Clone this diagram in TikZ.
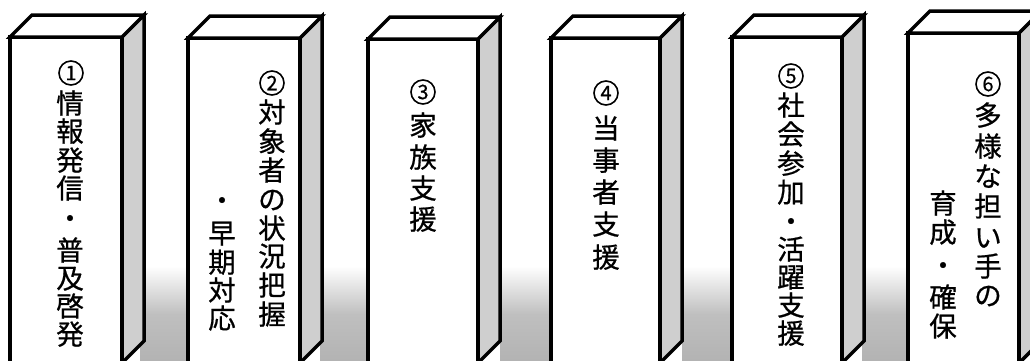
\documentclass[tikz,border=0pt]{standalone}
\usepackage{fontspec}
\newfontfamily\jp[FakeBold=0.7]{Noto Sans CJK JP}
\newfontfamily\jpdigit[FakeBold=0.6]{Noto Sans CJK JP}
\begin{document}
\begin{tikzpicture}[x=1pt,y=-1pt,
  edge/.style={line width=3.5pt, line join=miter, draw=black},
  front/.style={edge, fill=white, rectangle, inner sep=0pt, outer sep=0pt, anchor=north west},
  sideface/.style={edge, fill=gray!38},
  topface/.style={edge, fill=white},
  ch/.style={font=\jp\fontsize{27.5}{27.5}\selectfont, inner sep=0pt, anchor=center,
    text height=21pt, text depth=0pt},
  num/.style={circle, draw=black, line width=1.6pt, minimum size=24pt, inner sep=0pt,
    font=\jpdigit\fontsize{20}{20}\selectfont},
  ground/.style={top color=white, bottom color=gray!60, middle color=gray!50}]
\useasboundingbox (0,0) rectangle (1030,360);
\clip (0,0) rectangle (1030,360);
% ground shadows between the pillars
\foreach \a/\b [count=\i] in {140/192, 320/372, 500/555, 682/736, 862/912}
  \shade[ground] (\a,266) rectangle (\b,362);
% pillars
\newcommand\pillar[4]{%
  \node[front, minimum width=#4, minimum height={363-#3}] (#1) at (#2,#3) {};
  \path (#1.south east) ++(22,-22) coordinate (#1-sb);
  \path (#1.north east) ++(22,-22) coordinate (#1-tb);
  \filldraw[sideface] (#1.north east) -- (#1-tb) -- (#1-sb) -- (#1.south east) -- cycle;
  \filldraw[topface] (#1.north west) -- ++(22,-22) -- (#1-tb) -- (#1.north east) -- cycle;
}
\pillar{p1}{10}{37}{112}
\pillar{p2}{188}{38}{112}
\pillar{p3}{368}{39}{110}
\pillar{p4}{551}{38}{109}
\pillar{p5}{732}{37}{110}
\pillar{p6}{908}{33}{111}
% circled numbers
\node[num] (n1) at (71,73) {1};
\node[num] (n2) at (272,83) {2};
\node[num] (n3) at (423,92) {3};
\node[num] (n4) at (606,93) {4};
\node[num] (n5) at (791,76) {5};
\node[num] (n6) at (988,84) {6};
% texts
\foreach \c/\y [count=\i] in {情/103, 報/131, 発/160, 信/188, ・/218, 普/250, 及/278, 啓/306, 発/334}
  \node[ch] (a\i) at (70,\y) {\c};
\foreach \c/\y [count=\i] in {対/112, 象/141, 者/170, の/199, 状/228, 況/256, 把/285, 握/314}
  \node[ch] (b\i) at (272,\y) {\c};
\foreach \c/\y [count=\i] in {・/200, 早/233, 期/262, 対/290, 応/318}
  \node[ch] (bb\i) at (222,\y) {\c};
\foreach \c/\y [count=\i] in {家/125, 族/157, 支/188, 援/219}
  \node[ch] (c\i) at (423,\y) {\c};
\foreach \c/\y [count=\i] in {当/128, 事/160, 者/192, 支/224, 援/257}
  \node[ch] (d\i) at (606,\y) {\c};
\foreach \c/\y [count=\i] in {社/105, 会/134, 参/163, 加/192, ・/221, 活/249, 躍/277, 支/305, 援/333}
  \node[ch] (e\i) at (791,\y) {\c};
\foreach \c/\y [count=\i] in {多/115, 様/146, な/176, 担/206, い/237, 手/266, の/295}
  \node[ch] (f\i) at (988,\y) {\c};
\foreach \c/\y [count=\i] in {育/203, 成/232, ・/265, 確/297, 保/326}
  \node[ch] (ff\i) at (943,\y) {\c};
\end{tikzpicture}
\end{document}
